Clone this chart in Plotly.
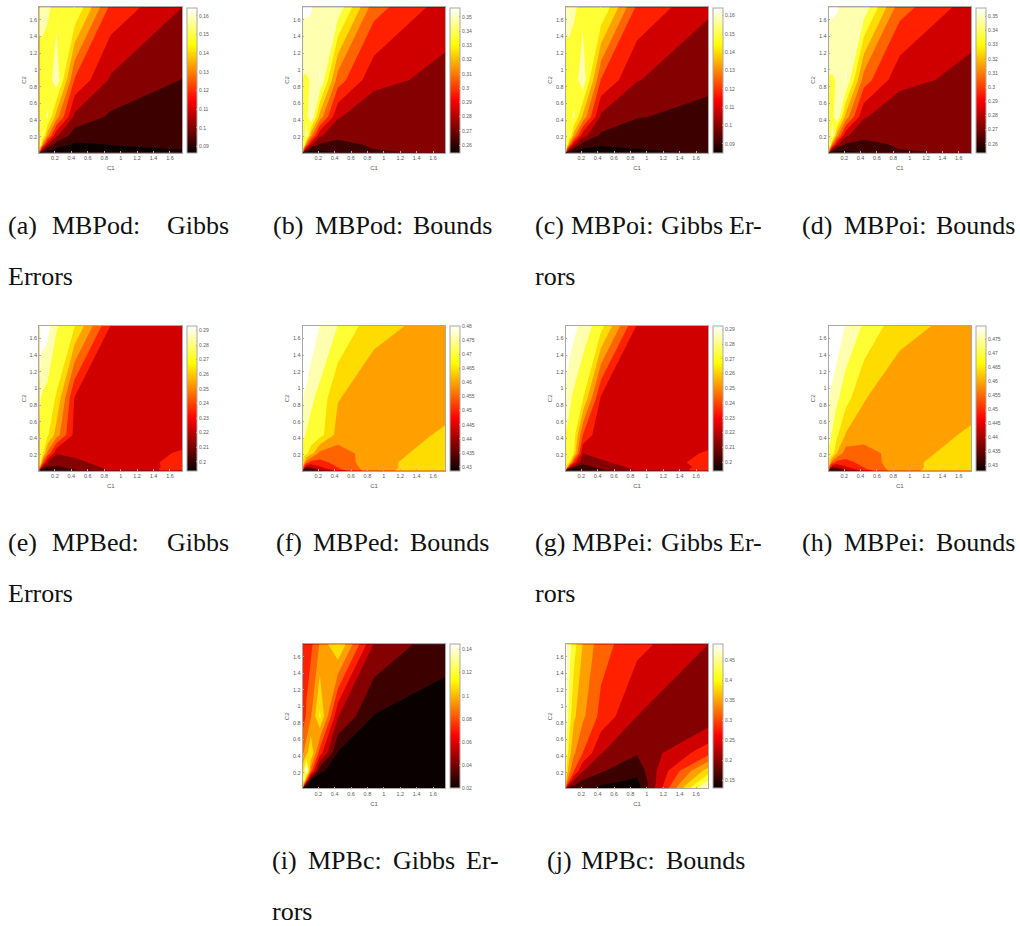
import plotly.graph_objects as go

C_GRID = [0.01, 0.027, 0.055, 0.11, 0.22, 0.44, 0.88, 1.75]
AXIS_TICKS = [0.2, 0.4, 0.6, 0.8, 1, 1.2, 1.4, 1.6]
AXIS_LABELS = ["0.2", "0.4", "0.6", "0.8", "1", "1.2", "1.4", "1.6"]

# each table: rows follow C2 (ascending), columns follow C1 (ascending)
Z_A = [[.0899,.0903,.0907,.0907,.0915,.0923,.0930,.0923],
       [.1531,.1094,.1001,.0942,.0923,.0915,.0934,.0930],
       [.1547,.1297,.1094,.0993,.0938,.0923,.0938,.0948],
       [.1554,.1586,.1336,.1118,.0985,.0938,.0948,.0962],
       [.1539,.1539,.1586,.1375,.1118,.0985,.0969,.0977],
       [.1523,.1523,.1531,.1586,.1375,.1083,.1012,.1001],
       [.1523,.1523,.1523,.1515,.1632,.1250,.1090,.1022],
       [.1601,.1601,.1601,.1586,.1539,.1574,.1235,.1102]]
Z_B = [[.2604,.2595,.2586,.2586,.2595,.2641,.2697,.2780],
       [.3288,.2808,.2697,.2641,.2632,.2660,.2715,.2780],
       [.3307,.3057,.2826,.2688,.2660,.2678,.2736,.2780],
       [.3325,.3427,.3103,.2854,.2725,.2715,.2743,.2780],
       [.3334,.3344,.3482,.3150,.2845,.2752,.2752,.2780],
       [.3334,.3334,.3344,.3491,.3159,.2835,.2762,.2789],
       [.3376,.3371,.3371,.3385,.3482,.3057,.2854,.2798],
       [.3491,.3491,.3491,.3482,.3418,.3445,.3048,.2872]]
Z_C = [[.0877,.0877,.0881,.0881,.0881,.0893,.0916,.0944],
       [.1525,.1090,.0995,.0940,.0900,.0900,.0920,.0948],
       [.1540,.1295,.1090,.0987,.0924,.0916,.0932,.0956],
       [.1548,.1580,.1343,.1114,.0979,.0940,.0948,.0964],
       [.1532,.1532,.1580,.1374,.1122,.0999,.0972,.0979],
       [.1517,.1517,.1525,.1580,.1390,.1074,.1015,.0991],
       [.1517,.1517,.1517,.1509,.1627,.1244,.1094,.1027],
       [.1596,.1596,.1596,.1580,.1532,.1568,.1232,.1102]]
Z_D = [[.2595,.2586,.2576,.2576,.2586,.2632,.2688,.2772],
       [.3283,.2799,.2688,.2632,.2623,.2651,.2706,.2772],
       [.3302,.3051,.2818,.2679,.2651,.2669,.2727,.2772],
       [.3320,.3423,.3097,.2846,.2716,.2706,.2734,.2772],
       [.3330,.3339,.3478,.3144,.2837,.2744,.2744,.2772],
       [.3330,.3330,.3339,.3478,.3153,.2827,.2753,.2781],
       [.3371,.3367,.3367,.3381,.3478,.3051,.2846,.2790],
       [.3488,.3488,.3488,.3478,.3413,.3441,.3041,.2865]]
Z_E = [[.1938,.1956,.1974,.2010,.2046,.2110,.2218,.2336],
       [.2643,.2074,.2019,.2019,.2056,.2119,.2227,.2336],
       [.2679,.2390,.2191,.2110,.2110,.2146,.2236,.2327],
       [.2697,.2661,.2408,.2200,.2173,.2191,.2241,.2327],
       [.2706,.2697,.2661,.2462,.2214,.2227,.2245,.2309],
       [.2725,.2706,.2697,.2679,.2526,.2272,.2245,.2263],
       [.2824,.2752,.2734,.2715,.2652,.2291,.2245,.2272],
       [.2914,.2905,.2896,.2878,.2761,.2666,.2295,.2272]]
Z_F = [[.4286,.4300,.4314,.4333,.4403,.4492,.4603,.4642],
       [.4591,.4380,.4342,.4356,.4431,.4511,.4601,.4642],
       [.4614,.4497,.4427,.4436,.4469,.4523,.4600,.4642],
       [.4638,.4614,.4544,.4502,.4506,.4535,.4600,.4642],
       [.4689,.4685,.4675,.4638,.4553,.4542,.4596,.4633],
       [.4717,.4713,.4703,.4694,.4680,.4596,.4586,.4621],
       [.4760,.4750,.4746,.4717,.4694,.4617,.4586,.4596],
       [.4802,.4802,.4802,.4793,.4754,.4707,.4628,.4596]]
Z_G = [[.1941,.1968,.1977,.1995,.2021,.2102,.2218,.2325],
       [.2638,.2120,.2021,.2021,.2039,.2115,.2227,.2325],
       [.2673,.2611,.2298,.2120,.2084,.2146,.2236,.2316],
       [.2691,.2682,.2655,.2343,.2146,.2200,.2236,.2325],
       [.2709,.2700,.2700,.2655,.2209,.2227,.2236,.2307],
       [.2727,.2727,.2718,.2700,.2388,.2218,.2227,.2254],
       [.2827,.2798,.2763,.2727,.2664,.2285,.2236,.2262],
       [.2914,.2905,.2896,.2861,.2798,.2691,.2289,.2262]]
Z_H = [[.4280,.4294,.4308,.4327,.4398,.4488,.4599,.4639],
       [.4587,.4374,.4337,.4351,.4426,.4507,.4597,.4639],
       [.4610,.4492,.4422,.4431,.4464,.4518,.4596,.4639],
       [.4634,.4610,.4540,.4497,.4502,.4530,.4596,.4639],
       [.4695,.4695,.4681,.4610,.4540,.4537,.4592,.4629],
       [.4719,.4714,.4700,.4667,.4606,.4592,.4582,.4617],
       [.4757,.4747,.4738,.4714,.4676,.4613,.4582,.4592],
       [.4799,.4799,.4799,.4790,.4747,.4698,.4625,.4592]]
Z_I = [[.0223,.0211,.0211,.0206,.0206,.0200,.0200,.0200],
       [.0993,.0370,.0245,.0223,.0211,.0211,.0211,.0211],
       [.1163,.0823,.0347,.0257,.0234,.0223,.0223,.0223],
       [.1106,.1276,.0823,.0313,.0257,.0234,.0234,.0223],
       [.1050,.1140,.1435,.0823,.0336,.0257,.0245,.0234],
       [.0868,.0891,.0936,.1106,.0710,.0308,.0257,.0245],
       [.0710,.0733,.0778,.0868,.1129,.0546,.0308,.0279],
       [.0710,.0721,.0721,.0738,.0891,.1118,.0529,.0342]]
Z_J = [[.1964,.1931,.1866,.1801,.1702,.1539,.1474,.4776],
       [.3109,.2291,.1964,.1931,.1768,.1588,.1490,.4678],
       [.3599,.2945,.2291,.1997,.1833,.1653,.1506,.4515],
       [.3926,.3370,.2945,.2307,.1964,.1801,.1588,.4220],
       [.4253,.3763,.3370,.2945,.2307,.1997,.1735,.3763],
       [.4515,.4090,.3730,.3337,.2945,.2307,.1997,.2814],
       [.4678,.4417,.4090,.3664,.3337,.2847,.2291,.2062],
       [.4744,.4580,.4384,.4057,.3583,.3076,.2716,.2291]]

# colour limits and contour spacing of each panel
LIMITS = {"a": (.0868, .1645), "b": (.2549, .3565), "c": (.0853, .1645), "d": (.2539, .3563),
          "e": (.1938, .2932), "f": (.4286, .4802), "g": (.1941, .2923), "h": (.4280, .4799),
          "i": (.0200, .1446), "j": (.1310, .4910)}
STEPS = {"a": .0078, "b": .00924, "c": .0079, "d": .0093, "e": .00904, "f": .00469,
         "g": .00893, "h": .00472, "i": .01133, "j": .0327}
TABLES = {"a": Z_A, "b": Z_B, "c": Z_C, "d": Z_D, "e": Z_E, "f": Z_F, "g": Z_G, "h": Z_H, "i": Z_I, "j": Z_J}

TICKS_ERR = [0.09, 0.1, 0.11, 0.12, 0.13, 0.14, 0.15, 0.16]
TICKS_BND = [0.26, 0.27, 0.28, 0.29, 0.3, 0.31, 0.32, 0.33, 0.34, 0.35]
TICKS_E = [0.2, 0.21, 0.22, 0.23, 0.24, 0.25, 0.26, 0.27, 0.28, 0.29]
TICKS_F = [0.43, 0.435, 0.44, 0.445, 0.45, 0.455, 0.46, 0.465, 0.47, 0.475, 0.48]
TICKS_H = [0.43, 0.435, 0.44, 0.445, 0.45, 0.455, 0.46, 0.465, 0.47, 0.475]
TICKS_I = [0.02, 0.04, 0.06, 0.08, 0.1, 0.12, 0.14]
TICKS_J = [0.15, 0.2, 0.25, 0.3, 0.35, 0.4, 0.45]
CB_TICKS = {"a": TICKS_ERR, "b": TICKS_BND, "c": TICKS_ERR, "d": TICKS_BND, "e": TICKS_E,
            "f": TICKS_F, "g": TICKS_E, "h": TICKS_H, "i": TICKS_I, "j": TICKS_J}

W, H = 1020, 926
HOT = [[0, "#0b0000"], [0.365, "#ff0000"], [0.746, "#ffff00"], [1, "#ffffff"]]
BANDS = ["#0a0000", "#3c0000", "#850000", "#d00000", "#ff2000", "#ff6400",
         "#ffa000", "#ffdc00", "#ffff33", "#ffffb0", "#ffffff"]
STEPPED = []
for k, c in enumerate(BANDS):
    STEPPED += [[k / len(BANDS), c], [(k + 1) / len(BANDS), c]]

COLS = [(39.3, 182.3, 187.3, 197), (302.7, 445.3, 450, 460), (565.7, 708.3, 713.3, 723.3), (828.7, 971, 976.3, 986.3)]
ROWS = [(7.3, 152.7), (326, 470.7), (644.3, 788.3)]
PLACE = {"a": (0, 0), "b": (1, 0), "c": (2, 0), "d": (3, 0), "e": (0, 1), "f": (1, 1),
         "g": (2, 1), "h": (3, 1), "i": (1, 2), "j": (2, 2)}

GREY = "#5a5a5a"
fig = go.Figure()
layout = {}
for n, key in enumerate("abcdefghij", start=1):
    c, r = PLACE[key]
    x0, x1, cb0, cb1 = COLS[c]
    y0, y1 = ROWS[r]
    zmin, zmax = LIMITS[key]
    step = STEPS[key]
    ax = "" if n == 1 else str(n)
    # smooth heatmap beneath: only visible as the continuous colour bar
    fig.add_trace(go.Heatmap(
        x=C_GRID, y=C_GRID, z=TABLES[key], xaxis="x" + ax, yaxis="y" + ax,
        zmin=zmin, zmax=zmax, colorscale=HOT, hoverinfo="skip", showscale=True,
        colorbar=dict(x=cb0 / W, xanchor="left", xpad=0, ypad=0, y=1 - (y0 + y1) / 2 / H, yanchor="middle",
                      lenmode="fraction", len=(y1 - y0) / H, thicknessmode="pixels", thickness=cb1 - cb0,
                      outlinecolor="#a8a8a8", outlinewidth=1, borderwidth=0, ticks="inside", ticklen=1.5,
                      tickcolor="#a8a8a8", tickvals=CB_TICKS[key], ticktext=[f"{v:g}" for v in CB_TICKS[key]],
                      tickfont=dict(size=5, color=GREY, family="Liberation Sans"))))
    fig.add_trace(go.Contour(
        x=C_GRID, y=C_GRID, z=TABLES[key], xaxis="x" + ax, yaxis="y" + ax, showscale=False,
        autocontour=False, colorscale=STEPPED, hoverinfo="skip", line=dict(width=0, smoothing=0),
        contours=dict(start=zmin + step, end=zmin + 10 * step, size=step, coloring="fill", showlines=False)))
    common = dict(range=[0.01, 1.75], tickvals=AXIS_TICKS, ticktext=AXIS_LABELS, showgrid=False, zeroline=False,
                  showline=True, mirror=True, linecolor="#a8a8a8", linewidth=1, ticks="inside", ticklen=1.5,
                  tickcolor="#a8a8a8", tickangle=0, tickfont=dict(size=5.5, color=GREY, family="Liberation Sans"))
    layout["xaxis" + ax] = dict(common, domain=[x0 / W, x1 / W], anchor="y" + ax,
                                title=dict(text="C1", standoff=5, font=dict(size=6, color=GREY, family="Liberation Sans")))
    layout["yaxis" + ax] = dict(common, domain=[1 - y1 / H, 1 - y0 / H], anchor="x" + ax,
                                title=dict(text="C2", standoff=2, font=dict(size=6, color=GREY, family="Liberation Sans")))

CAPTION_WORDS = [
    ("(a)", 7, 234), ("MBPod:", 51, 234), ("Gibbs", 166, 234), ("Errors", 7, 285),
    ("(b)", 272, 234), ("MBPod:", 314, 234), ("Bounds", 412, 234),
    ("(c)", 534, 234), ("MBPoi:", 570, 234), ("Gibbs", 660, 234), ("Er-", 728, 234), ("rors", 534, 285),
    ("(d)", 801, 234), ("MBPoi:", 843, 234), ("Bounds", 935, 234),
    ("(e)", 7, 551), ("MPBed:", 51, 551), ("Gibbs", 166, 551), ("Errors", 7, 602),
    ("(f)", 275, 551), ("MBPed:", 312, 551), ("Bounds", 409, 551),
    ("(g)", 534, 551), ("MBPei:", 571, 551), ("Gibbs", 660, 551), ("Er-", 728, 551), ("rors", 534, 602),
    ("(h)", 801, 551), ("MBPei:", 843, 551), ("Bounds", 935, 551),
    ("(i)", 271, 869), ("MPBc:", 307, 869), ("Gibbs", 392, 869), ("Er-", 465, 869), ("rors", 271, 920),
    ("(j)", 546, 869), ("MPBc:", 580, 869), ("Bounds", 665, 869),
]
annotations = [dict(text=t, x=x / W, y=1 - y / H, xref="paper", yref="paper", xanchor="left", yanchor="bottom",
                    showarrow=False, borderpad=0, yshift=-7,
                    font=dict(family="Liberation Serif", size=26, color="#111111"))
               for t, x, y in CAPTION_WORDS]

fig.update_layout(width=W, height=H, autosize=False, margin=dict(l=0, r=0, t=0, b=0), paper_bgcolor="white",
                  plot_bgcolor="white", showlegend=False, annotations=annotations, **layout)
fig.write_html("out.html", config={"displayModeBar": False},
               post_script="document.body.style.margin='0';document.documentElement.style.overflow='hidden';")
